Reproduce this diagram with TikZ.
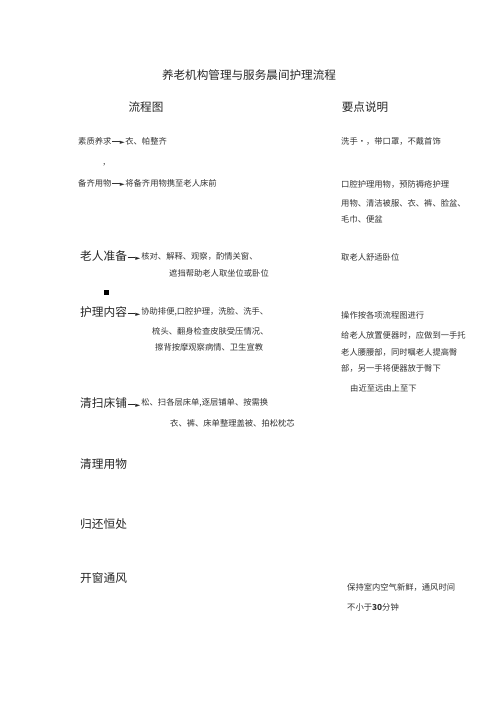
\documentclass[tikz,border=0pt]{standalone}
\usepackage{fontspec}
\setmainfont{Noto Sans CJK SC}
\newfontfamily\sym{DejaVu Sans}
\begin{document}
\begin{tikzpicture}[x=1pt,y=-1pt,
  sm/.style={anchor=west,inner sep=0pt,font=\fontsize{8.3}{10}\selectfont,text=black!80},
  big/.style={anchor=west,inner sep=0pt,font=\fontsize{11.7}{13}\selectfont,text=black!85},
  hd/.style={inner sep=0pt,font=\fontsize{11.6}{13}\selectfont,text=black!85}]
\useasboundingbox (0,0) rectangle (500,707);
\newcommand{\arr}{\kern0.5pt\raisebox{3pt}{\rule{8pt}{0.6pt}}{\sym\fontsize{6.5}{7}\selectfont ►}\kern0.5pt}
\node[hd] (title) at (249,75) {养老机构管理与服务晨间护理流程};
\node[hd] (h1) at (146,107) {流程图};
\node[hd] (h2) at (365,107) {要点说明};
\node[sm] (a1) at (78,141) {素质养求\arr 衣、帕整齐};
\node[sm] (dot) at (103,165) {,};
\node[sm] (a2) at (78,183) {备齐用物\arr 将备齐用物携至老人床前};
\node[sm] (r1) at (341,141) {洗手•，带口罩，不戴首饰};
\node[sm] (r2) at (341,184) {口腔护理用物，预防褥疮护理};
\node[sm] (r3) at (341,203) {用物、清洁被服、衣、裤、脸盆、};
\node[sm] (r4) at (341,219) {毛巾、便盆};
\node[big] (b1) at (80,256) {老人准备\arr};
\node[sm] (b1a) at (b1.east) [anchor=west] {核对、解释、观察，酌情关窗、};
\node[sm] (b1b) at (169,273) {遮挡帮助老人取坐位或卧位};
\node[sm] (r5) at (341,257) {取老人舒适卧位};
\node[inner sep=0pt,fill=black,minimum size=5pt] (sq) at (106,292) {};
\node[big] (c1) at (80,312) {护理内容\arr};
\node[sm] (c1a) at (c1.east) [anchor=west] {协助排便,口腔护理，洗脸、洗手、};
\node[sm] (c1b) at (152,331) {梳头、翻身检查皮肤受压情况、};
\node[sm] (c1c) at (155,347) {擦背按摩观察病情、卫生宣教};
\node[sm] (r6) at (341,315) {操作按各项流程图进行};
\node[sm] (r7) at (341,335) {给老人放置便器时，应做到一手托};
\node[sm] (r8) at (341,352) {老人腰腰部，同时嘱老人提高臀};
\node[sm] (r9) at (341,368) {部，另一手将便器放于臀下};
\node[sm] (r10) at (350,388) {由近至远由上至下};
\node[big] (d1) at (80,403) {清扫床铺\arr};
\node[sm] (d1a) at (d1.east) [anchor=west] {松、扫各层床单,逐层铺单、按需换};
\node[sm] (d1b) at (170,423) {衣、裤、床单整理盖被、拍松枕芯};
\node[big] (e1) at (80,464) {清理用物};
\node[big] (f1) at (80,524) {归还恒处};
\node[big] (g1) at (80,578) {开窗通风};
\node[sm] (r11) at (347,587) {保持室内空气新鲜，通风时间};
\node[sm] (r12) at (347,607) {不小于\textbf{30}分钟};
\end{tikzpicture}
\end{document}
